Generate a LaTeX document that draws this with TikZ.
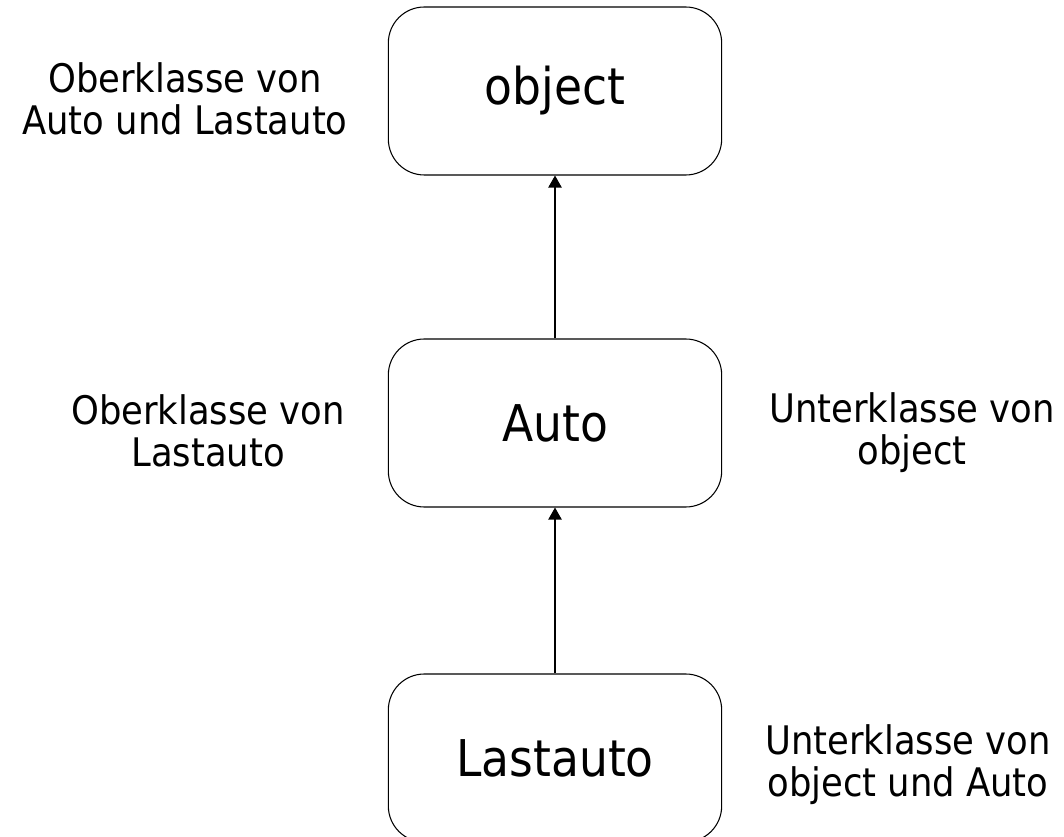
\documentclass[tikz,border=0pt]{standalone}
\usepackage{fontspec}
\setmainfont{DejaVu Sans Condensed}
\usetikzlibrary{arrows.meta}
\tikzset{
  klasse/.style={draw, line width=0.8pt, rounded corners=27pt, minimum width=250pt,
    minimum height=126pt, inner sep=0pt, font=\fontsize{38}{44}\selectfont},
  hinweis/.style={align=center, inner sep=0pt, font=\fontsize{29.5}{31.5}\selectfont},
  erbt/.style={line width=0.8pt, -{Triangle[length=9pt, width=10pt]}}
}
\begin{document}
\begin{tikzpicture}[x=0.75pt, y=-0.75pt]
\useasboundingbox (0,0) rectangle (1064,837);
% Klassen
\node[klasse] (object) at (555,91) {object};
\node[klasse] (auto) at (555,423) {Auto};
\node[klasse] (lastauto) at (555,758) {Lastauto};
% Vererbung
\draw[erbt] (auto) -- (object);
\draw[erbt] (lastauto) -- (auto);
% Beschriftungen
\node[hinweis] (ob1) at (185,99) {Oberklasse von\\Auto und Lastauto};
\node[hinweis] (ob2) at (208,431) {Oberklasse von\\Lastauto};
\node[hinweis] (un1) at (912,433) {Unterklasse von\\object};
\node[hinweis] (un2) at (908,765) {Unterklasse von\\object und Auto};
\end{tikzpicture}
\end{document}
